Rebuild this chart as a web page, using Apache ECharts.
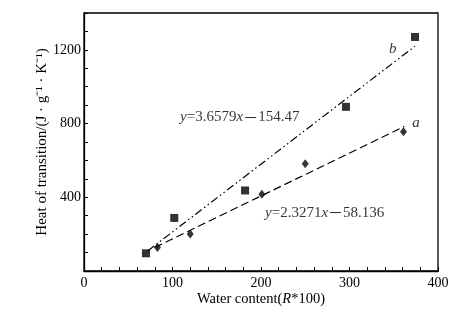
<!DOCTYPE html>
<html><head><meta charset="utf-8">
<script src="https://cdn.jsdelivr.net/npm/echarts@6/dist/echarts.min.js"></script>
<style>html,body{margin:0;padding:0;background:#fff}#c{width:473px;height:325px}</style>
</head><body><div id="c"></div>
<script>
const seriesB = [[70, 96], [102, 288], [182, 437], [296, 891], [374, 1270]];
const seriesA = [[83, 127], [120, 201], [201, 417], [250, 582], [361, 755]];
const fitA = [[80, 128], [362, 784]];
const fitB = [[72, 109], [374, 1220]];
const xTickLabels = [0, 100, 200, 300, 400];
const yTickLabels = [400, 800, 1200];
const eqB = {pos: [176, 833], parts: ['3.6579', '154.47']};
const eqA = {pos: [272, 316], parts: ['2.3271', '58.136']};
const curveLabels = [{pos: [349, 1203], text: 'b'}, {pos: [375, 805], text: 'a'}];

const FONT = 'Liberation Serif';
const chart = echarts.init(document.getElementById('c'));
const rich = {i: {fontStyle: 'italic', fontFamily: FONT, fontSize: 15, color: '#000'},
              n: {fontFamily: FONT, fontSize: 15, color: '#000'},
              m: {fontFamily: '"Noto Sans CJK SC"', fontSize: 15, color: '#000'}};
function eqText(p) { return '{i|y}{n|=' + p[0] + '}{i|x}{m|\uff0d}{n|' + p[1] + '}'; }
chart.setOption({
  animation: false,
  grid: {left: 84, right: 35, top: 13, bottom: 54, show: true, borderColor: '#000', borderWidth: 1.3},
  xAxis: {
    type: 'value', min: 0, max: 400, interval: 20,
    name: 'Water content({i|R}*100)', nameLocation: 'middle', nameGap: 21, nameMoveOverlap: false,
    nameTextStyle: {fontFamily: FONT, fontSize: 14.5, color: '#000', rich: {i: {fontStyle: 'italic', fontFamily: FONT, fontSize: 14.5, color: '#000'}}},
    axisLine: {lineStyle: {color: '#000', width: 1.3}},
    axisTick: {inside: true, length: 4, lineStyle: {color: '#000'}},
    axisLabel: {fontFamily: FONT, fontSize: 14, color: '#000', margin: 5,
      formatter: v => xTickLabels.includes(v) ? String(v) : ''},
    splitLine: {show: false}
  },
  yAxis: {
    type: 'value', min: 0, max: 1400, interval: 100,
    name: 'Heat of transition/(J \u00b7 g\u207b\u00b9 \u00b7 K\u207b\u00b9)', nameLocation: 'middle', nameGap: 34, nameMoveOverlap: false,
    nameTextStyle: {fontFamily: FONT, fontSize: 15, color: '#000'},
    axisLine: {lineStyle: {color: '#000', width: 1.3}},
    axisTick: {inside: true, length: 4, lineStyle: {color: '#000'}},
    axisLabel: {fontFamily: FONT, fontSize: 14, color: '#000', margin: 3,
      formatter: v => yTickLabels.includes(v) ? String(v) : ''},
    splitLine: {show: false}
  },
  series: [
    {type: 'line', data: fitB, symbol: 'none', lineStyle: {color: '#000', width: 1.2, type: [8, 3, 1.5, 3, 1.5, 3]}},
    {type: 'line', data: fitA, symbol: 'none', lineStyle: {color: '#000', width: 1.2, type: [8, 4]}},
    {type: 'scatter', data: seriesB, symbol: 'rect', symbolSize: 8, itemStyle: {color: '#000'}},
    {type: 'scatter', data: seriesA, symbol: 'diamond', symbolSize: [7, 9], itemStyle: {color: '#000'}},
    {type: 'scatter', symbolSize: 0, silent: true,
      data: [
        {value: eqB.pos, label: {show: true, position: 'inside', formatter: eqText(eqB.parts), rich: rich}},
        {value: eqA.pos, label: {show: true, position: 'inside', formatter: eqText(eqA.parts), rich: rich}}
      ].concat(curveLabels.map(c => ({value: c.pos, label: {show: true, position: 'inside', formatter: '{i|' + c.text + '}', rich: rich}})))
    }
  ]
});
</script></body></html>
